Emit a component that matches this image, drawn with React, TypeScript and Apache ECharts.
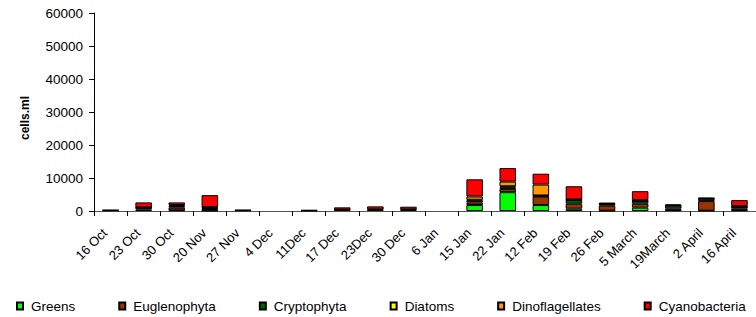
import React, { useEffect, useRef } from "react";
import * as echarts from "echarts";

const categories = [
  "16 Oct", "23 Oct", "30 Oct", "20 Nov", "27 Nov", "4 Dec", "11Dec", "17 Dec", "23Dec", "30 Dec",
  "6 Jan", "15 Jan", "22 Jan", "12 Feb", "19 Feb", "26 Feb", "5 March", "19March", "2 April", "16 April",
];

const greens = [0, 0, 200, 100, 0, 0, 0, 0, 0, 0, 0, 1800, 5700, 1800, 700, 100, 1000, 200, 100, 200];
const euglenophyta = [200, 500, 800, 500, 200, 0, 100, 300, 300, 300, 0, 800, 1000, 2600, 1500, 1500, 1200, 500, 2900, 500];
const cryptophyta = [0, 500, 500, 500, 0, 0, 0, 100, 200, 200, 0, 600, 500, 200, 1100, 500, 800, 900, 700, 500];
const diatoms = [0, 0, 0, 0, 0, 0, 0, 0, 0, 0, 0, 200, 300, 100, 100, 0, 100, 0, 0, 100];
const dinoflagellates = [0, 100, 300, 100, 0, 0, 0, 0, 0, 0, 0, 1000, 1400, 3300, 100, 100, 200, 100, 100, 200];
const cyanobacteria = [100, 1500, 800, 3600, 100, 0, 200, 700, 900, 800, 0, 5200, 4100, 3300, 4000, 300, 2700, 300, 200, 1800];

const seriesDefs = [
  { name: "Greens", data: greens, color: "#00FF00" },
  { name: "Euglenophyta", data: euglenophyta, color: "#993300" },
  { name: "Cryptophyta", data: cryptophyta, color: "#006600" },
  { name: "Diatoms", data: diatoms, color: "#FFFF00" },
  { name: "Dinoflagellates", data: dinoflagellates, color: "#FF9900" },
  { name: "Cyanobacteria", data: cyanobacteria, color: "#FF0000" },
];

const yTicks = { min: 0, max: 60000, interval: 10000 };

export default function App() {
  const ref = useRef<HTMLDivElement>(null);
  useEffect(() => {
    if (!ref.current) return;
    const chart = echarts.init(ref.current, undefined, { renderer: "svg" });
    const font = "'Liberation Sans', Arial, sans-serif";
    chart.setOption({
      animation: false,
      textStyle: { fontFamily: font },
      grid: { left: 94, right: -6, top: 13, bottom: 106, containLabel: false },
      legend: {
        left: 11,
        top: 294,
        itemWidth: 6,
        itemHeight: 7,
        itemGap: 43,
        icon: "rect",
        textStyle: { fontSize: 13.5, color: "#000", fontFamily: font, padding: [0, 0, 0, 3] },
        data: seriesDefs.map((s) => s.name),
      },
      xAxis: {
        type: "category",
        data: categories,
        axisLine: { lineStyle: { color: "#555", width: 1 } },
        axisTick: { show: true, length: 5, lineStyle: { color: "#000" } },
        axisLabel: {
          rotate: 45,
          margin: 14,
          padding: [0, 8, 0, 0],
          fontSize: 13,
          color: "#000",
          fontFamily: font,
          interval: 0,
        },
      },
      yAxis: {
        type: "value",
        min: yTicks.min,
        max: yTicks.max,
        interval: yTicks.interval,
        name: "cells.ml",
        nameLocation: "middle",
        nameGap: 63,
        nameTextStyle: { fontSize: 12, fontWeight: "bold", color: "#000", fontFamily: font, padding: [0, 12, 0, 0] },
        axisLine: { show: true, lineStyle: { color: "#000", width: 1 } },
        axisTick: { show: true, length: 5, lineStyle: { color: "#000" } },
        axisLabel: { margin: 11, fontSize: 13.5, color: "#000", fontFamily: font, formatter: (v: number) => String(v) },
        splitLine: { show: false },
      },
      series: seriesDefs.map((s) => ({
        name: s.name,
        type: "bar",
        stack: "total",
        barWidth: "50%",
        data: s.data.map((v) => (v === 0 ? "-" : v)),
        itemStyle: { color: s.color, borderColor: "#000", borderWidth: 1 },
      })),
    });
    return () => chart.dispose();
  }, []);
  return (
    <div
      ref={ref}
      style={{ position: "absolute", left: 0, top: 0, width: 756, height: 317, overflow: "hidden" }}
    />
  );
}
